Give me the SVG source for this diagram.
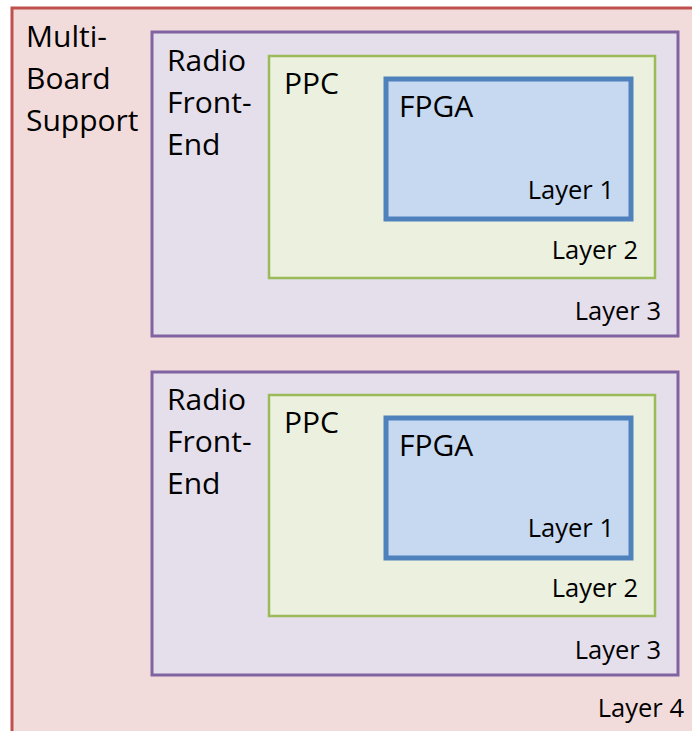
<svg xmlns="http://www.w3.org/2000/svg" width="692" height="731" viewBox="0 0 692 731">
<style>
text{font-family:"Open Sans","Liberation Sans",sans-serif;fill:#000}
.big{font-size:30px}
.sm{font-size:25.5px;text-anchor:end}
.l4{fill:#F2DCDB;stroke:#C0504D;stroke-width:3}
.l3{fill:#E5DFEC;stroke:#8064A2;stroke-width:3}
.l2{fill:#EBF1DE;stroke:#9BBB59;stroke-width:2.5}
.l1{fill:#C6D9F1;stroke:#4F81BD;stroke-width:5}
</style>
<rect width="692" height="731" fill="#ffffff"/>
<g id="multi-board">
<rect class="l4" x="12" y="8" width="700" height="740"/>
<text class="big" x="26" y="47">Multi-</text>
<text class="big" x="26" y="89">Board</text>
<text class="big" x="26" y="131">Support</text>
<text class="sm" x="684" y="717">Layer 4</text>
</g>
<g id="rfe1">
<rect class="l3" x="152" y="32" width="526" height="304"/>
<text class="big" x="167" y="71">Radio</text>
<text class="big" x="167" y="113">Front-</text>
<text class="big" x="167" y="155">End</text>
<text class="sm" x="661" y="320">Layer 3</text>
</g>
<g id="ppc1">
<rect class="l2" x="269" y="56" width="386" height="222"/>
<text class="big" x="284" y="94">PPC</text>
<text class="sm" x="638" y="259">Layer 2</text>
</g>
<g id="fpga1">
<rect class="l1" x="386" y="79" width="245" height="140"/>
<text class="big" x="399" y="117">FPGA</text>
<text class="sm" x="614" y="199">Layer 1</text>
</g>
<g id="rfe2">
<rect class="l3" x="152" y="372" width="526" height="303"/>
<text class="big" x="167" y="410">Radio</text>
<text class="big" x="167" y="452">Front-</text>
<text class="big" x="167" y="494">End</text>
<text class="sm" x="661" y="659">Layer 3</text>
</g>
<g id="ppc2">
<rect class="l2" x="269" y="395" width="386" height="221"/>
<text class="big" x="284" y="433">PPC</text>
<text class="sm" x="638" y="597">Layer 2</text>
</g>
<g id="fpga2">
<rect class="l1" x="386" y="418" width="245" height="140"/>
<text class="big" x="399" y="456">FPGA</text>
<text class="sm" x="614" y="537">Layer 1</text>
</g>
<g id="connectors"/>
</svg>
